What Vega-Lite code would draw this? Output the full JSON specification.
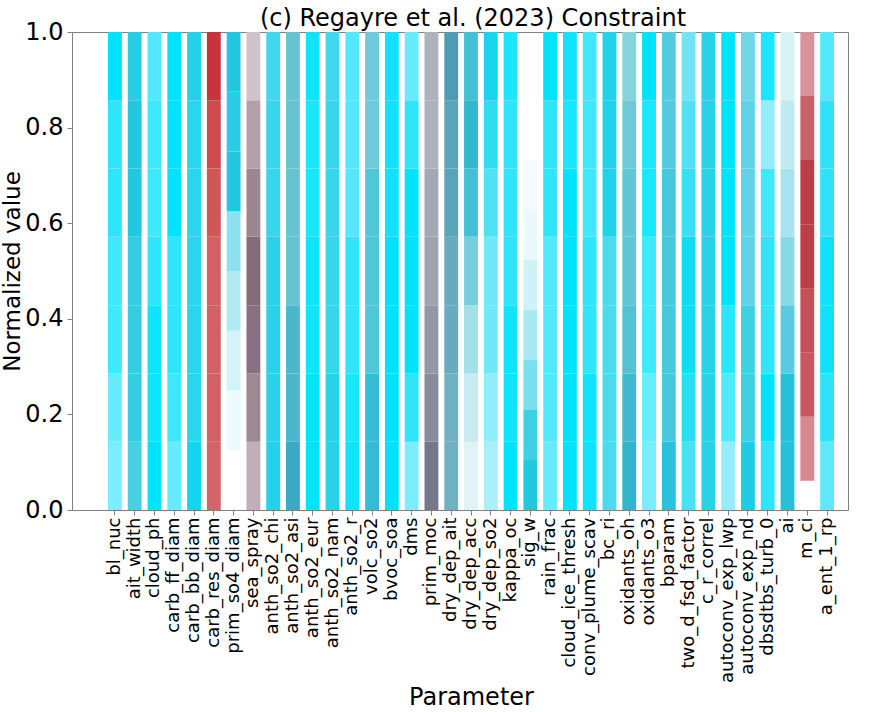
{
 "$schema": "https://vega.github.io/schema/vega-lite/v6.json",
 "width": 776, "height": 478,
 "autosize": "none",
 "padding": {"left": 72, "top": 32, "right": 23, "bottom": 202},
 "background": "white",
 "config": {"font": "DejaVu Sans", "view": {"stroke": "#808080", "strokeWidth": 1}},
 "title": {"text": "(c) Regayre et al. (2023) Constraint", "fontSize": 24, "fontWeight": "normal", "color": "#000000", "offset": -11, "dx": 13, "frame": "group", "font": "DejaVu Sans"},
 "datasets": {
  "segs": [
   {"p":"bl_nuc","y0":0,"y1":0.1429,"c":"A7"},{"p":"bl_nuc","y0":0.1429,"y1":0.2857,"c":"A6"},{"p":"bl_nuc","y0":0.2857,"y1":0.4286,"c":"A4"},{"p":"bl_nuc","y0":0.4286,"y1":0.5714,"c":"A4"},{"p":"bl_nuc","y0":0.5714,"y1":0.7143,"c":"A3"},{"p":"bl_nuc","y0":0.7143,"y1":0.8571,"c":"A3"},{"p":"bl_nuc","y0":0.8571,"y1":1,"c":"A0"},
   {"p":"ait_width","y0":0,"y1":0.1429,"c":"C4"},{"p":"ait_width","y0":0.1429,"y1":0.2857,"c":"C3"},{"p":"ait_width","y0":0.2857,"y1":0.4286,"c":"C3"},{"p":"ait_width","y0":0.4286,"y1":0.5714,"c":"C3"},{"p":"ait_width","y0":0.5714,"y1":0.7143,"c":"C1"},{"p":"ait_width","y0":0.7143,"y1":0.8571,"c":"C1"},{"p":"ait_width","y0":0.8571,"y1":1,"c":"C2"},
   {"p":"cloud_ph","y0":0,"y1":0.1429,"c":"A0"},{"p":"cloud_ph","y0":0.1429,"y1":0.2857,"c":"A1"},{"p":"cloud_ph","y0":0.2857,"y1":0.4286,"c":"A1"},{"p":"cloud_ph","y0":0.4286,"y1":0.5714,"c":"A3"},{"p":"cloud_ph","y0":0.5714,"y1":0.7143,"c":"A4"},{"p":"cloud_ph","y0":0.7143,"y1":0.8571,"c":"A4"},{"p":"cloud_ph","y0":0.8571,"y1":1,"c":"A5"},
   {"p":"carb_ff_diam","y0":0,"y1":0.1429,"c":"A6"},{"p":"carb_ff_diam","y0":0.1429,"y1":0.2857,"c":"A4"},{"p":"carb_ff_diam","y0":0.2857,"y1":0.4286,"c":"A3"},{"p":"carb_ff_diam","y0":0.4286,"y1":0.5714,"c":"A3"},{"p":"carb_ff_diam","y0":0.5714,"y1":0.7143,"c":"A0"},{"p":"carb_ff_diam","y0":0.7143,"y1":0.8571,"c":"A0"},{"p":"carb_ff_diam","y0":0.8571,"y1":1,"c":"A0"},
   {"p":"carb_bb_diam","y0":0,"y1":0.1429,"c":"B2"},{"p":"carb_bb_diam","y0":0.1429,"y1":0.2857,"c":"B4"},{"p":"carb_bb_diam","y0":0.2857,"y1":0.4286,"c":"B4"},{"p":"carb_bb_diam","y0":0.4286,"y1":0.5714,"c":"B4"},{"p":"carb_bb_diam","y0":0.5714,"y1":0.7143,"c":"B4"},{"p":"carb_bb_diam","y0":0.7143,"y1":0.8571,"c":"B4"},{"p":"carb_bb_diam","y0":0.8571,"y1":1,"c":"B3"},
   {"p":"carb_res_diam","y0":0,"y1":0.1429,"c":"R5"},{"p":"carb_res_diam","y0":0.1429,"y1":0.2857,"c":"R4"},{"p":"carb_res_diam","y0":0.2857,"y1":0.4286,"c":"R4"},{"p":"carb_res_diam","y0":0.4286,"y1":0.5714,"c":"R4"},{"p":"carb_res_diam","y0":0.5714,"y1":0.7143,"c":"R3"},{"p":"carb_res_diam","y0":0.7143,"y1":0.8571,"c":"R2"},{"p":"carb_res_diam","y0":0.8571,"y1":1,"c":"R1"},
   {"p":"prim_so4_diam","y0":0.125,"y1":0.25,"c":"P1"},{"p":"prim_so4_diam","y0":0.25,"y1":0.375,"c":"P2"},{"p":"prim_so4_diam","y0":0.375,"y1":0.5,"c":"P3"},{"p":"prim_so4_diam","y0":0.5,"y1":0.625,"c":"P4"},{"p":"prim_so4_diam","y0":0.625,"y1":0.75,"c":"C1"},{"p":"prim_so4_diam","y0":0.75,"y1":0.875,"c":"C2"},{"p":"prim_so4_diam","y0":0.875,"y1":1,"c":"C1"},
   {"p":"sea_spray","y0":0,"y1":0.1429,"c":"S7"},{"p":"sea_spray","y0":0.1429,"y1":0.2857,"c":"S6"},{"p":"sea_spray","y0":0.2857,"y1":0.4286,"c":"S5"},{"p":"sea_spray","y0":0.4286,"y1":0.5714,"c":"S4"},{"p":"sea_spray","y0":0.5714,"y1":0.7143,"c":"S3"},{"p":"sea_spray","y0":0.7143,"y1":0.8571,"c":"S2"},{"p":"sea_spray","y0":0.8571,"y1":1,"c":"S1"},
   {"p":"anth_so2_chi","y0":0,"y1":0.1429,"c":"B3"},{"p":"anth_so2_chi","y0":0.1429,"y1":0.2857,"c":"B5"},{"p":"anth_so2_chi","y0":0.2857,"y1":0.4286,"c":"B5"},{"p":"anth_so2_chi","y0":0.4286,"y1":0.5714,"c":"B5"},{"p":"anth_so2_chi","y0":0.5714,"y1":0.7143,"c":"B6"},{"p":"anth_so2_chi","y0":0.7143,"y1":0.8571,"c":"B6"},{"p":"anth_so2_chi","y0":0.8571,"y1":1,"c":"B7"},
   {"p":"anth_so2_asi","y0":0,"y1":0.1429,"c":"D3"},{"p":"anth_so2_asi","y0":0.1429,"y1":0.2857,"c":"D2"},{"p":"anth_so2_asi","y0":0.2857,"y1":0.4286,"c":"D2"},{"p":"anth_so2_asi","y0":0.4286,"y1":0.5714,"c":"D1"},{"p":"anth_so2_asi","y0":0.5714,"y1":0.7143,"c":"D1"},{"p":"anth_so2_asi","y0":0.7143,"y1":0.8571,"c":"D1"},{"p":"anth_so2_asi","y0":0.8571,"y1":1,"c":"D1"},
   {"p":"anth_so2_eur","y0":0,"y1":0.1429,"c":"A0"},{"p":"anth_so2_eur","y0":0.1429,"y1":0.2857,"c":"A0"},{"p":"anth_so2_eur","y0":0.2857,"y1":0.4286,"c":"A1"},{"p":"anth_so2_eur","y0":0.4286,"y1":0.5714,"c":"A1"},{"p":"anth_so2_eur","y0":0.5714,"y1":0.7143,"c":"A2"},{"p":"anth_so2_eur","y0":0.7143,"y1":0.8571,"c":"A2"},{"p":"anth_so2_eur","y0":0.8571,"y1":1,"c":"A1"},
   {"p":"anth_so2_nam","y0":0,"y1":0.1429,"c":"B5"},{"p":"anth_so2_nam","y0":0.1429,"y1":0.2857,"c":"B5"},{"p":"anth_so2_nam","y0":0.2857,"y1":0.4286,"c":"B6"},{"p":"anth_so2_nam","y0":0.4286,"y1":0.5714,"c":"B6"},{"p":"anth_so2_nam","y0":0.5714,"y1":0.7143,"c":"B6"},{"p":"anth_so2_nam","y0":0.7143,"y1":0.8571,"c":"B6"},{"p":"anth_so2_nam","y0":0.8571,"y1":1,"c":"B7"},
   {"p":"anth_so2_r","y0":0,"y1":0.1429,"c":"A1"},{"p":"anth_so2_r","y0":0.1429,"y1":0.2857,"c":"A2"},{"p":"anth_so2_r","y0":0.2857,"y1":0.4286,"c":"A3"},{"p":"anth_so2_r","y0":0.4286,"y1":0.5714,"c":"A3"},{"p":"anth_so2_r","y0":0.5714,"y1":0.7143,"c":"A5"},{"p":"anth_so2_r","y0":0.7143,"y1":0.8571,"c":"A5"},{"p":"anth_so2_r","y0":0.8571,"y1":1,"c":"A5"},
   {"p":"volc_so2","y0":0,"y1":0.1429,"c":"D7"},{"p":"volc_so2","y0":0.1429,"y1":0.2857,"c":"D7"},{"p":"volc_so2","y0":0.2857,"y1":0.4286,"c":"D5"},{"p":"volc_so2","y0":0.4286,"y1":0.5714,"c":"D5"},{"p":"volc_so2","y0":0.5714,"y1":0.7143,"c":"D5"},{"p":"volc_so2","y0":0.7143,"y1":0.8571,"c":"D4"},{"p":"volc_so2","y0":0.8571,"y1":1,"c":"D4"},
   {"p":"bvoc_soa","y0":0,"y1":0.1429,"c":"A0"},{"p":"bvoc_soa","y0":0.1429,"y1":0.2857,"c":"A0"},{"p":"bvoc_soa","y0":0.2857,"y1":0.4286,"c":"A0"},{"p":"bvoc_soa","y0":0.4286,"y1":0.5714,"c":"A0"},{"p":"bvoc_soa","y0":0.5714,"y1":0.7143,"c":"A1"},{"p":"bvoc_soa","y0":0.7143,"y1":0.8571,"c":"A1"},{"p":"bvoc_soa","y0":0.8571,"y1":1,"c":"A1"},
   {"p":"dms","y0":0,"y1":0.1429,"c":"A7"},{"p":"dms","y0":0.1429,"y1":0.2857,"c":"A3"},{"p":"dms","y0":0.2857,"y1":0.4286,"c":"A0"},{"p":"dms","y0":0.4286,"y1":0.5714,"c":"A0"},{"p":"dms","y0":0.5714,"y1":0.7143,"c":"A0"},{"p":"dms","y0":0.7143,"y1":0.8571,"c":"A3"},{"p":"dms","y0":0.8571,"y1":1,"c":"A6"},
   {"p":"prim_moc","y0":0,"y1":0.1429,"c":"Q6"},{"p":"prim_moc","y0":0.1429,"y1":0.2857,"c":"Q5"},{"p":"prim_moc","y0":0.2857,"y1":0.4286,"c":"Q4"},{"p":"prim_moc","y0":0.4286,"y1":0.5714,"c":"Q3"},{"p":"prim_moc","y0":0.5714,"y1":0.7143,"c":"Q2"},{"p":"prim_moc","y0":0.7143,"y1":0.8571,"c":"Q1"},{"p":"prim_moc","y0":0.8571,"y1":1,"c":"Q1"},
   {"p":"dry_dep_ait","y0":0,"y1":0.1429,"c":"E4"},{"p":"dry_dep_ait","y0":0.1429,"y1":0.2857,"c":"E4"},{"p":"dry_dep_ait","y0":0.2857,"y1":0.4286,"c":"E3"},{"p":"dry_dep_ait","y0":0.4286,"y1":0.5714,"c":"E3"},{"p":"dry_dep_ait","y0":0.5714,"y1":0.7143,"c":"E2"},{"p":"dry_dep_ait","y0":0.7143,"y1":0.8571,"c":"E2"},{"p":"dry_dep_ait","y0":0.8571,"y1":1,"c":"E1"},
   {"p":"dry_dep_acc","y0":0,"y1":0.1429,"c":"F4"},{"p":"dry_dep_acc","y0":0.1429,"y1":0.2857,"c":"F3"},{"p":"dry_dep_acc","y0":0.2857,"y1":0.4286,"c":"F2"},{"p":"dry_dep_acc","y0":0.4286,"y1":0.5714,"c":"F1"},{"p":"dry_dep_acc","y0":0.5714,"y1":0.7143,"c":"C9"},{"p":"dry_dep_acc","y0":0.7143,"y1":0.8571,"c":"C8"},{"p":"dry_dep_acc","y0":0.8571,"y1":1,"c":"C9"},
   {"p":"dry_dep_so2","y0":0,"y1":0.1429,"c":"G3"},{"p":"dry_dep_so2","y0":0.1429,"y1":0.2857,"c":"G2"},{"p":"dry_dep_so2","y0":0.2857,"y1":0.4286,"c":"G1"},{"p":"dry_dep_so2","y0":0.4286,"y1":0.5714,"c":"G1"},{"p":"dry_dep_so2","y0":0.5714,"y1":0.7143,"c":"B9"},{"p":"dry_dep_so2","y0":0.7143,"y1":0.8571,"c":"BD"},{"p":"dry_dep_so2","y0":0.8571,"y1":1,"c":"B0"},
   {"p":"kappa_oc","y0":0,"y1":0.1429,"c":"A0"},{"p":"kappa_oc","y0":0.1429,"y1":0.2857,"c":"A1"},{"p":"kappa_oc","y0":0.2857,"y1":0.4286,"c":"A1"},{"p":"kappa_oc","y0":0.4286,"y1":0.5714,"c":"A3"},{"p":"kappa_oc","y0":0.5714,"y1":0.7143,"c":"A3"},{"p":"kappa_oc","y0":0.7143,"y1":0.8571,"c":"A3"},{"p":"kappa_oc","y0":0.8571,"y1":1,"c":"A2"},
   {"p":"sig_w","y0":0,"y1":0.1046,"c":"C1"},{"p":"sig_w","y0":0.1046,"y1":0.2092,"c":"H2"},{"p":"sig_w","y0":0.2092,"y1":0.3137,"c":"H3"},{"p":"sig_w","y0":0.3137,"y1":0.4183,"c":"H4"},{"p":"sig_w","y0":0.4183,"y1":0.5229,"c":"H5"},{"p":"sig_w","y0":0.5229,"y1":0.6275,"c":"H6"},{"p":"sig_w","y0":0.6275,"y1":0.732,"c":"H7"},
   {"p":"rain_frac","y0":0,"y1":0.1429,"c":"A6"},{"p":"rain_frac","y0":0.1429,"y1":0.2857,"c":"A5"},{"p":"rain_frac","y0":0.2857,"y1":0.4286,"c":"A5"},{"p":"rain_frac","y0":0.4286,"y1":0.5714,"c":"A5"},{"p":"rain_frac","y0":0.5714,"y1":0.7143,"c":"A3"},{"p":"rain_frac","y0":0.7143,"y1":0.8571,"c":"A3"},{"p":"rain_frac","y0":0.8571,"y1":1,"c":"A0"},
   {"p":"cloud_ice_thresh","y0":0,"y1":0.1429,"c":"A0"},{"p":"cloud_ice_thresh","y0":0.1429,"y1":0.2857,"c":"A0"},{"p":"cloud_ice_thresh","y0":0.2857,"y1":0.4286,"c":"A0"},{"p":"cloud_ice_thresh","y0":0.4286,"y1":0.5714,"c":"A0"},{"p":"cloud_ice_thresh","y0":0.5714,"y1":0.7143,"c":"A0"},{"p":"cloud_ice_thresh","y0":0.7143,"y1":0.8571,"c":"A2"},{"p":"cloud_ice_thresh","y0":0.8571,"y1":1,"c":"A1"},
   {"p":"conv_plume_scav","y0":0,"y1":0.1429,"c":"A1"},{"p":"conv_plume_scav","y0":0.1429,"y1":0.2857,"c":"A1"},{"p":"conv_plume_scav","y0":0.2857,"y1":0.4286,"c":"A3"},{"p":"conv_plume_scav","y0":0.4286,"y1":0.5714,"c":"A3"},{"p":"conv_plume_scav","y0":0.5714,"y1":0.7143,"c":"A4"},{"p":"conv_plume_scav","y0":0.7143,"y1":0.8571,"c":"A4"},{"p":"conv_plume_scav","y0":0.8571,"y1":1,"c":"A4"},
   {"p":"bc_ri","y0":0,"y1":0.1429,"c":"B8"},{"p":"bc_ri","y0":0.1429,"y1":0.2857,"c":"B8"},{"p":"bc_ri","y0":0.2857,"y1":0.4286,"c":"B8"},{"p":"bc_ri","y0":0.4286,"y1":0.5714,"c":"B8"},{"p":"bc_ri","y0":0.5714,"y1":0.7143,"c":"B3"},{"p":"bc_ri","y0":0.7143,"y1":0.8571,"c":"B3"},{"p":"bc_ri","y0":0.8571,"y1":1,"c":"B3"},
   {"p":"oxidants_oh","y0":0,"y1":0.1429,"c":"O6"},{"p":"oxidants_oh","y0":0.1429,"y1":0.2857,"c":"O5"},{"p":"oxidants_oh","y0":0.2857,"y1":0.4286,"c":"O4"},{"p":"oxidants_oh","y0":0.4286,"y1":0.5714,"c":"O3"},{"p":"oxidants_oh","y0":0.5714,"y1":0.7143,"c":"O3"},{"p":"oxidants_oh","y0":0.7143,"y1":0.8571,"c":"O2"},{"p":"oxidants_oh","y0":0.8571,"y1":1,"c":"O1"},
   {"p":"oxidants_o3","y0":0,"y1":0.1429,"c":"A7"},{"p":"oxidants_o3","y0":0.1429,"y1":0.2857,"c":"A6"},{"p":"oxidants_o3","y0":0.2857,"y1":0.4286,"c":"A4"},{"p":"oxidants_o3","y0":0.4286,"y1":0.5714,"c":"A4"},{"p":"oxidants_o3","y0":0.5714,"y1":0.7143,"c":"A2"},{"p":"oxidants_o3","y0":0.7143,"y1":0.8571,"c":"A2"},{"p":"oxidants_o3","y0":0.8571,"y1":1,"c":"A0"},
   {"p":"bparam","y0":0,"y1":0.1429,"c":"C7"},{"p":"bparam","y0":0.1429,"y1":0.2857,"c":"C6"},{"p":"bparam","y0":0.2857,"y1":0.4286,"c":"C6"},{"p":"bparam","y0":0.4286,"y1":0.5714,"c":"C6"},{"p":"bparam","y0":0.5714,"y1":0.7143,"c":"C6"},{"p":"bparam","y0":0.7143,"y1":0.8571,"c":"C5"},{"p":"bparam","y0":0.8571,"y1":1,"c":"C5"},
   {"p":"two_d_fsd_factor","y0":0,"y1":0.1429,"c":"BG"},{"p":"two_d_fsd_factor","y0":0.1429,"y1":0.2857,"c":"BF"},{"p":"two_d_fsd_factor","y0":0.2857,"y1":0.4286,"c":"B1"},{"p":"two_d_fsd_factor","y0":0.4286,"y1":0.5714,"c":"B1"},{"p":"two_d_fsd_factor","y0":0.5714,"y1":0.7143,"c":"BE"},{"p":"two_d_fsd_factor","y0":0.7143,"y1":0.8571,"c":"B9"},{"p":"two_d_fsd_factor","y0":0.8571,"y1":1,"c":"BA"},
   {"p":"c_r_correl","y0":0,"y1":0.1429,"c":"B5"},{"p":"c_r_correl","y0":0.1429,"y1":0.2857,"c":"B5"},{"p":"c_r_correl","y0":0.2857,"y1":0.4286,"c":"B5"},{"p":"c_r_correl","y0":0.4286,"y1":0.5714,"c":"B5"},{"p":"c_r_correl","y0":0.5714,"y1":0.7143,"c":"B5"},{"p":"c_r_correl","y0":0.7143,"y1":0.8571,"c":"B5"},{"p":"c_r_correl","y0":0.8571,"y1":1,"c":"B5"},
   {"p":"autoconv_exp_lwp","y0":0,"y1":0.1429,"c":"A8"},{"p":"autoconv_exp_lwp","y0":0.1429,"y1":0.2857,"c":"A5"},{"p":"autoconv_exp_lwp","y0":0.2857,"y1":0.4286,"c":"A3"},{"p":"autoconv_exp_lwp","y0":0.4286,"y1":0.5714,"c":"A0"},{"p":"autoconv_exp_lwp","y0":0.5714,"y1":0.7143,"c":"A0"},{"p":"autoconv_exp_lwp","y0":0.7143,"y1":0.8571,"c":"A0"},{"p":"autoconv_exp_lwp","y0":0.8571,"y1":1,"c":"A0"},
   {"p":"autoconv_exp_nd","y0":0,"y1":0.1429,"c":"N4"},{"p":"autoconv_exp_nd","y0":0.1429,"y1":0.2857,"c":"N3"},{"p":"autoconv_exp_nd","y0":0.2857,"y1":0.4286,"c":"N3"},{"p":"autoconv_exp_nd","y0":0.4286,"y1":0.5714,"c":"N2"},{"p":"autoconv_exp_nd","y0":0.5714,"y1":0.7143,"c":"N2"},{"p":"autoconv_exp_nd","y0":0.7143,"y1":0.8571,"c":"N2"},{"p":"autoconv_exp_nd","y0":0.8571,"y1":1,"c":"N1"},
   {"p":"dbsdtbs_turb_0","y0":0,"y1":0.1429,"c":"A3"},{"p":"dbsdtbs_turb_0","y0":0.1429,"y1":0.2857,"c":"A0"},{"p":"dbsdtbs_turb_0","y0":0.2857,"y1":0.4286,"c":"A3"},{"p":"dbsdtbs_turb_0","y0":0.4286,"y1":0.5714,"c":"A3"},{"p":"dbsdtbs_turb_0","y0":0.5714,"y1":0.7143,"c":"A4"},{"p":"dbsdtbs_turb_0","y0":0.7143,"y1":0.8571,"c":"A8"},{"p":"dbsdtbs_turb_0","y0":0.8571,"y1":1,"c":"A2"},
   {"p":"ai","y0":0,"y1":0.1429,"c":"I6"},{"p":"ai","y0":0.1429,"y1":0.2857,"c":"I6"},{"p":"ai","y0":0.2857,"y1":0.4286,"c":"I5"},{"p":"ai","y0":0.4286,"y1":0.5714,"c":"I4"},{"p":"ai","y0":0.5714,"y1":0.7143,"c":"I3"},{"p":"ai","y0":0.7143,"y1":0.8571,"c":"I2"},{"p":"ai","y0":0.8571,"y1":1,"c":"I1"},
   {"p":"m_ci","y0":0.061,"y1":0.195,"c":"M6"},{"p":"m_ci","y0":0.195,"y1":0.329,"c":"M5"},{"p":"m_ci","y0":0.329,"y1":0.463,"c":"M4"},{"p":"m_ci","y0":0.463,"y1":0.598,"c":"M3"},{"p":"m_ci","y0":0.598,"y1":0.732,"c":"M3"},{"p":"m_ci","y0":0.732,"y1":0.866,"c":"M2"},{"p":"m_ci","y0":0.866,"y1":1,"c":"M1"},
   {"p":"a_ent_1_rp","y0":0,"y1":0.1429,"c":"BC"},{"p":"a_ent_1_rp","y0":0.1429,"y1":0.2857,"c":"BB"},{"p":"a_ent_1_rp","y0":0.2857,"y1":0.4286,"c":"AA"},{"p":"a_ent_1_rp","y0":0.4286,"y1":0.5714,"c":"AA"},{"p":"a_ent_1_rp","y0":0.5714,"y1":0.7143,"c":"BB"},{"p":"a_ent_1_rp","y0":0.7143,"y1":0.8571,"c":"BB"},{"p":"a_ent_1_rp","y0":0.8571,"y1":1,"c":"A5"}
  ]
 },
 "data": {"name": "segs"},
 "mark": {"type": "bar"},
 "encoding": {
  "x": {"field": "p", "type": "nominal", "sort": null,
        "scale": {"paddingInner": 0.3, "paddingOuter": 0, "range": [36, 762]},
        "axis": {"title": "Parameter", "labelAngle": -90, "labelFontSize": 18, "labelColor": "#000000", "titleFontSize": 24, "titleFontWeight": "normal", "titleColor": "#000000", "tickColor": "#808080", "domainColor": "#808080", "tickSize": 5, "labelPadding": 2, "titlePadding": 3}},
  "y": {"field": "y0", "type": "quantitative",
        "scale": {"domain": [0, 1], "nice": false},
        "axis": {"title": "Normalized value", "values": [0, 0.2, 0.4, 0.6, 0.8, 1], "format": ".1f", "grid": false, "labelFontSize": 24, "labelColor": "#000000", "titleFontSize": 23, "titleFontWeight": "normal", "titleColor": "#000000", "tickColor": "#808080", "domainColor": "#808080", "tickSize": 5, "labelPadding": 4, "titlePadding": 0}},
  "y2": {"field": "y1"},
  "color": {"field": "c", "type": "nominal", "legend": null,
   "scale": {
    "domain": ["A0","A1","A2","A3","A4","A5","A6","A7","A8","AA","B0","B1","B2","B3","B4","B5","B6","B7","B8","B9","BA","BB","BC","BD","BE","BF","BG","C1","C2","C3","C4","C5","C6","C7","C8","C9","D1","D2","D3","D4","D5","D7","E1","E2","E3","E4","F1","F2","F3","F4","G1","G2","G3","H2","H3","H4","H5","H6","H7","P1","P2","P3","P4","O1","O2","O3","O4","O5","O6","N1","N2","N3","N4","I1","I2","I3","I4","I5","I6","R1","R2","R3","R4","R5","M1","M2","M3","M4","M5","M6","S1","S2","S3","S4","S5","S6","S7","Q1","Q2","Q3","Q4","Q5","Q6"],
    "range": ["#00e3fb","#10e4fc","#1ae6fc","#2ee5fa","#40e8fc","#52e9fc","#66ecfc","#7aeefc","#94edf9","#10e0f8","#18d4ec","#10dcf4","#12d6f0","#22d2ea","#2ad6ee","#2ad2e8","#38d6ea","#40d8ec","#4cdaee","#50e2f4","#70e4f4","#30e2f8","#60e8fa","#30dcf0","#38def2","#28def2","#48e2f4","#22c8e0","#28cce4","#38cce2","#48d0e2","#54cce0","#48c8dc","#28c2da","#30b8cc","#44c0d4","#68c2d2","#4cb6cc","#3aaac4","#6ecad8","#50c6d8","#34bcd4","#4e9cb2","#5aa4b8","#66abbe","#70b0c0","#78cede","#a4dfe8","#c8eaf0","#e0f2f6","#70e8f6","#90eef8","#a8f0f8","#40d0e6","#78dfee","#a8eaf2","#d0f2f6","#eaf9fb","#f4fbfc","#eefbfd","#d2f4f8","#b0ebf3","#8de0ef","#88d2de","#6ecad8","#60c6d8","#54c2d6","#40b8d0","#32b4cc","#6cd8e8","#60d4e6","#40d0e4","#20cce4","#d8f2f6","#c0eaf0","#a8e2ec","#88d8e6","#58ccde","#28c0d8","#c8343c","#cc4c52","#cf5659","#d26065","#d4646a","#d8929a","#c8626a","#bc3e48","#c4505a","#c6585f","#d68890","#d0c4cc","#b4a0aa","#9e8690","#856a78","#8a7080","#9e8892","#c0aeb8","#aeb2bc","#a4a8b4","#a0a4b0","#9498a6","#888c9a","#747888"]
   }}
 }
}
